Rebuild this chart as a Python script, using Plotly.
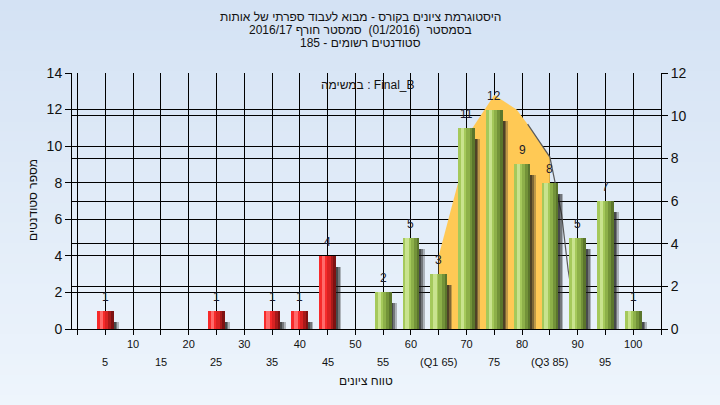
import plotly.graph_objects as go

# ---------------- data ----------------
grades = [5, 10, 15, 20, 25, 30, 35, 40, 45, 50, 55, 60, 65, 70, 75, 80, 85, 90, 95, 100]
counts = [1, 0, 0, 0, 1, 0, 1, 1, 4, 0, 2, 5, 3, 11, 12, 9, 8, 5, 7, 1]
pass_grade = 55

curve_x = [65, 71.1, 75, 79, 81, 85, 87.1, 88.3, 90]
curve_y = [4.0, 11.0, 12.8, 12.0, 11.2, 9.4, 6.3, 3.2, 0]
q1, q3 = 65, 85

row1_vals = [0, 5, 10, 15, 20, 25, 30, 35, 40, 45, 50, 55, 60, 65, 70, 75, 80, 85, 90, 95, 100, 105]
row1_text = ["", "", "10", "", "20", "", "30", "", "40", "", "50", "", "60", "", "70", "", "80", "", "90", "", "100", ""]
row2_vals = [5, 15, 25, 35, 45, 55, 65, 75, 85, 95]
row2_text = ["5", "15", "25", "35", "45", "55", "(Q1 65)", "75", "(Q3 85)", "95"]

title_lines = [
    "היסטוגרמת ציונים בקורס - מבוא לעבוד ספרתי של אותות",
    "בסמסטר  (01/2016)  סמסטר חורף 2016/17",
    "סטודנטים רשומים - 185",
]
y_title = "מספר סטודנטים"
x_title = "טווח ציונים"
legend_text = "במשימה : Final_B"

FONT = "Liberation Sans, Arial, DejaVu Sans, sans-serif"

# ---------------- figure ----------------
fig = go.Figure()

is_pass = [g >= pass_grade for g in grades]

def colors(red, green):
    return [green if p else red for p in is_pass]

# filled area between Q1 and Q3 (main axes, drawn below the bars)
fx = [q1] + [x for x in curve_x if q1 <= x <= q3] + [q3]
fy = [0] + [y for x, y in zip(curve_x, curve_y) if q1 <= x <= q3] + [0]
fig.add_trace(go.Scatter(x=fx, y=fy, fill="toself", mode="lines",
                         fillcolor="#FFC955", line=dict(width=0, color="#FFC955"),
                         hoverinfo="skip", showlegend=False))
lx = [x for x in curve_x if x >= 80]
ly = [y for x, y in zip(curve_x, curve_y) if x >= 80]
fig.add_trace(go.Scatter(x=lx, y=ly, mode="lines", line=dict(width=1.2, color="#5a5a5a"),
                         hoverinfo="skip", showlegend=False))

# shadows (overlay axis y3 -> above the area)
shadow_y = [max(c - 0.3, 0) if c > 0 else 0 for c in counts]
shadow_base = [-0.3 if c > 0 else 0 for c in counts]
for off, w, col in [(0.0, 2.45, "rgba(40,40,40,0.30)"),
                    (0.0, 2.15, "rgba(30,30,30,0.40)"),
                    (0.0, 1.85, "rgba(20,20,20,0.45)")]:
    fig.add_trace(go.Bar(x=grades, y=shadow_y, base=shadow_base, yaxis="y3",
                         offset=off, width=w, marker=dict(color=col, line=dict(width=0)),
                         hoverinfo="skip", showlegend=False, cliponaxis=False))

# cylinder body layers
layers = [
    (-1.5, 3.0, "#7E1212", "#5B762C"),
    (-1.5, 2.55, "#A81A1A", "#739339"),
    (-1.5, 2.05, "#D82222", "#8DB049"),
    (-1.5, 1.45, "#F72A2A", "#A5C95B"),
    (-1.0, 0.6, "#FF6A6A", "#C9E38E"),
]
for off, w, rc, gc in layers:
    fig.add_trace(go.Bar(x=grades, y=counts, offset=off, width=w, yaxis="y3",
                         marker=dict(color=colors(rc, gc), line=dict(width=0)),
                         hoverinfo="skip", showlegend=False))

# invisible trace on the right axis
fig.add_trace(go.Scatter(x=[grades[0]], y=[0], yaxis="y2", mode="markers",
                         marker=dict(opacity=0), hoverinfo="skip", showlegend=False))

# paper gradient
L, R, T, B = 72, 59, 73, 76
W, H = 720, 405
pw, ph = W - L - R, H - T - B
shapes = []
n = 40
for i in range(n):
    t0 = i / n
    t1 = (i + 1) / n
    c0 = (212, 226, 244)
    c1 = (238, 245, 252)
    c = tuple(int(round(a + (b - a) * (t0 + t1) / 2)) for a, b in zip(c0, c1))
    y_top = H * t0
    y_bot = H * t1 + 1
    shapes.append(dict(type="rect", xref="paper", yref="paper", layer="below",
                       x0=-L / pw, x1=1 + R / pw,
                       y0=(H - B - y_bot) / ph, y1=(H - B - y_top) / ph,
                       fillcolor="rgb(%d,%d,%d)" % c, line=dict(width=0)))

annotations = []
for i, line in enumerate(title_lines):
    annotations.append(dict(text=line, xref="paper", yref="paper",
                            x=(360 - L) / pw, y=(H - B - (17 + 13 * i)) / ph,
                            xanchor="center", yanchor="middle", showarrow=False,
                            font=dict(size=12, color="#111111", family=FONT)))
for v, t in zip(row2_vals, row2_text):
    annotations.append(dict(text=t, x=v, xref="x", yref="paper", y=(H - B - 362) / ph,
                            xanchor="center", yanchor="middle", showarrow=False,
                            font=dict(size=11, color="#111111", family=FONT)))
for g, c in zip(grades, counts):
    if c > 0:
        annotations.append(dict(text=str(c), x=g, y=c, xref="x", yref="y",
                                yshift=14, xanchor="center", yanchor="middle",
                                showarrow=False,
                                font=dict(size=12, color="#1a1a2a", family=FONT)))
annotations.append(dict(text=x_title, xref="paper", yref="paper", x=(366 - L) / pw,
                        y=(H - B - 381) / ph, xanchor="center", yanchor="middle",
                        showarrow=False, font=dict(size=12, color="#111111", family=FONT)))
annotations.append(dict(text=y_title, xref="paper", yref="paper", x=(33 - L) / pw,
                        y=(H - B - 200) / ph, xanchor="center", yanchor="middle",
                        textangle=-90, showarrow=False,
                        font=dict(size=12, color="#111111", family=FONT)))
annotations.append(dict(text=legend_text, xref="paper", yref="paper", x=(368 - L) / pw,
                        y=(H - B - 85) / ph, xanchor="center", yanchor="middle",
                        showarrow=False, font=dict(size=12, color="#111111", family=FONT)))

fig.update_layout(
    width=W, height=H,
    margin=dict(l=L, r=R, t=T, b=B),
    paper_bgcolor="rgb(225,236,248)",
    plot_bgcolor="#B4B4B4",
    barmode="overlay",
    bargap=0,
    shapes=shapes,
    annotations=annotations,
    hovermode=False,
    font=dict(family=FONT, color="#111111"),
    xaxis=dict(range=[-1, 105], tickmode="array", tickvals=row1_vals, ticktext=row1_text,
               ticks="outside", ticklen=5, tickcolor="black", showline=True, linecolor="black",
               showgrid=True, gridcolor="black", gridwidth=1, zeroline=False,
               tickfont=dict(size=11, color="#111111")),
    yaxis=dict(range=[0, 14], dtick=2, ticks="outside", ticklen=6, tickcolor="black",
               showline=True, linecolor="black", showgrid=True, gridcolor="black",
               zeroline=False, tickfont=dict(size=14, color="#111111")),
    yaxis2=dict(range=[0, 12], dtick=2, overlaying="y", side="right", ticks="outside",
                ticklen=6, tickcolor="black", showline=True, linecolor="black",
                showgrid=True, gridcolor="black", zeroline=False,
                tickfont=dict(size=14, color="#111111")),
    yaxis3=dict(range=[0, 14], overlaying="y", visible=False, showgrid=False, zeroline=False),
)

fig.write_html("out.html", config={"displayModeBar": False},
               post_script="document.body.style.margin='0';")
